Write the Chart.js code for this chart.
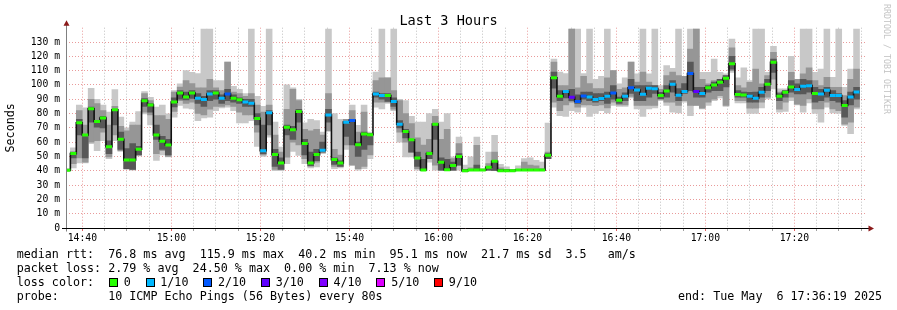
<!DOCTYPE html>
<html>
<head>
<meta charset="utf-8">
<script src="https://cdn.jsdelivr.net/npm/chart.js@4.4.1/dist/chart.umd.min.js"></script>
<style>
  body { margin: 0; background: #fff; }
  #wrap { position: relative; width: 897px; height: 310px; overflow: hidden; background: #fff; }
  #wrap canvas { position: absolute; left: 0; top: 0; }
  .txt { position: absolute; font-family: 'DejaVu Sans Mono', monospace; white-space: pre; color: #000; }
  #title { left: 0; width: 897px; top: 11.8px; text-align: center; font-size: 13.6px; line-height: 16px; }
  #mark { left: 892px; top: 4px; font-size: 8.3px; line-height: 10px; color: #c4c4c4; transform-origin: 0 0; transform: rotate(90deg); }
  .row { left: 16.7px; font-size: 11.7px; line-height: 14px; }
  .box { display: inline-block; width: 7px; height: 7px; border: 1px solid #000; vertical-align: -1px; margin: 0 5.7px 0 0.8px; }
</style>
</head>
<body>
<div id="wrap">
  <canvas id="chart" width="897" height="310"></canvas>
  <div class="txt" id="title">Last 3 Hours</div>
  <div class="txt" id="mark">RRDTOOL / TOBI OETIKER</div>
  <div class="txt row" style="top:246.6px">median rtt:  76.8 ms avg  115.9 ms max  40.2 ms min  95.1 ms now  21.7 ms sd  3.5   am/s</div>
  <div class="txt row" style="top:260.6px">packet loss: 2.79 % avg  24.50 % max  0.00 % min  7.13 % now</div>
  <div class="txt row" id="lossRow" style="top:274.6px"></div>
  <div class="txt row" style="top:288.6px">probe:       10 ICMP Echo Pings (56 Bytes) every 80s</div>
  <div class="txt row" style="top:288.6px; left:678px">end: Tue May  6 17:36:19 2025</div>
</div>
<script>
// time window (3 hours ending at the graph end time), 80 s steps
const endTime = '17:36:19';
const spanSeconds = 3 * 3600;
const stepSeconds = 80;
const firstStepStart = '14:35:58';

const timeLabels = ['14:40', '15:00', '15:20', '15:40', '16:00', '16:20', '16:40', '17:00', '17:20'];
const yLabels = ['0', '10 m', '20 m', '30 m', '40 m', '50 m', '60 m', '70 m', '80 m', '90 m', '100 m', '110 m', '120 m', '130 m'];

const lossLevels = [0, 1, 2, 3, 4, 5, 9];
const lossLabels = ['0', '1/10', '2/10', '3/10', '4/10', '5/10', '9/10'];
const lossColors = ['#26ff00', '#00b8ff', '#0059ff', '#5e00ff', '#7e00ff', '#dd00ff', '#ff0000'];

// median rtt per step (ms)
const median = [
  40.4, 52, 73.5, 65, 83.3, 74.5, 76.8, 56.8, 82.6, 62,
  47.6, 47.6, 55, 89, 86, 65, 60.6, 58, 88, 94.4,
  91.6, 94.4, 90.7, 89.8, 93.7, 94.4, 90.7, 93.7, 90.7, 89.6,
  88, 87.2, 76.6, 54, 80.5, 51.3, 45.5, 70.5, 68.7, 81.4,
  59, 45.5, 51.3, 54.3, 78.9, 47.8, 45.5, 74, 75.2, 58.2,
  65.7, 65.2, 93.7, 92.6, 92.6, 88.4, 72.6, 67.5, 61.7, 49,
  40.6, 52, 72.6, 46, 40.8, 43.6, 49.9, 40.1, 40.6, 40.6,
  40.6, 42.5, 46.6, 40.1, 40.1, 40.1, 40.6, 40.6, 40.6, 40.6,
  40.6, 50.8, 105, 92, 95.4, 91.4, 88.4, 92.3, 91.6, 89.8,
  90.5, 92, 94.4, 89.3, 92, 98, 96.5, 93.5, 97.7, 97.4,
  92.6, 95.8, 100.5, 92.8, 95.4, 108, 95.4, 94, 98, 100,
  101.9, 104.6, 114.8, 93.3, 93, 92, 90.7, 94.9, 100.5, 115.8,
  92, 94.9, 98.6, 96.8, 99, 99.5, 94, 93.7, 96.3, 92.6,
  92.6, 85.6, 91.6, 95.1
];

// lost pings (of 10) per step
const lossPings = [
  0, 0, 0, 0, 0, 0, 0, 0, 0, 0,
  0, 0, 0, 0, 0, 0, 0, 0, 0, 0,
  0, 0, 1, 1, 1, 0, 1, 2, 0, 0,
  1, 1, 0, 1, 1, 0, 0, 0, 0, 0,
  0, 0, 0, 1, 1, 0, 0, 1, 2, 0,
  0, 0, 1, 1, 0, 1, 1, 0, 0, 0,
  0, 0, 0, 0, 0, 0, 0, 0, 0, 0,
  0, 0, 0, 0, 0, 0, 0, 0, 0, 0,
  0, 0, 0, 0, 1, 3, 2, 2, 1, 1,
  1, 1, 2, 0, 1, 2, 1, 1, 1, 1,
  0, 0, 1, 1, 1, 2, 3, 1, 0, 0,
  0, 0, 0, 0, 0, 1, 1, 1, 0, 0,
  0, 0, 0, 1, 1, 1, 0, 1, 1, 1,
  1, 0, 1, 1
];

// smoke: outer (all pings), middle and inner spread, ms
const lightLo = [
  39.5, 42, 45.5, 45.5, 59, 54, 61, 48.5, 61, 53.6,
  41, 40.4, 50.3, 79.8, 72, 47.3, 51, 49.7, 77.5, 85.6,
  83.8, 83.3, 75, 77, 77.5, 82, 84, 84.5, 82, 73.5,
  73.5, 75, 57, 50, 63.5, 40, 40, 45, 53.6, 50.8,
  45, 42, 42.7, 52, 67.5, 41.5, 42, 55, 44, 40.4,
  41.5, 48.5, 84.5, 83.3, 87, 82, 60, 49.7, 49.7, 40.4,
  40, 46, 40.4, 40, 40, 40, 40.4, 39.2, 40, 40,
  40, 40.3, 40, 40, 40, 40, 40, 40, 40, 40,
  40, 48.5, 84.5, 78.6, 78, 82, 81, 84.5, 78, 80,
  82, 80.5, 85.6, 85, 85, 91, 83.3, 78, 83.3, 84,
  89, 85.6, 81, 80.5, 88, 78.6, 85.6, 83.3, 85.6, 89,
  91, 85, 108.8, 87.5, 87.5, 80, 80, 84, 90.3, 97.2,
  81, 81.4, 89, 86, 81, 87.5, 80, 74, 84.5, 80.5,
  80, 71.7, 66, 83.3
];
const lightHi = [
  41.5, 56, 86, 84, 97.7, 90, 86, 81, 96.7, 77.5,
  70, 74, 81.4, 95.4, 91.4, 84.5, 86, 79.8, 96, 100.7,
  110, 108.8, 108, 139, 139, 103, 103, 116, 99, 97,
  94, 139, 92, 85, 139, 74, 56.6, 100, 98, 90,
  73.5, 76, 75, 67, 139, 80, 76, 76, 86, 71.7,
  86, 67, 109, 139, 105, 139, 90, 89, 78, 74,
  74, 80, 83, 74, 80, 49.7, 63.6, 44, 49.7, 63.6,
  41.5, 53, 64.7, 44.5, 42.7, 41, 43.4, 48.5, 49, 47.3,
  46, 73.3, 118, 109, 108, 139, 139, 108, 139, 104,
  106, 139, 110, 100.7, 105, 116, 107.7, 139, 107.7, 139,
  99.5, 113.5, 111.6, 139, 106, 139, 139, 108.8, 108.8, 118,
  108.8, 107.7, 132, 105, 112, 103, 139, 139, 108.8, 127,
  97.2, 97.2, 120, 104, 139, 139, 108.8, 111, 139, 105.3,
  139, 98.4, 111, 139
];
const midLo = [
  40, 45, 49, 46, 60, 61, 67, 49.7, 65, 54,
  41.5, 41, 51, 81, 79, 52, 54, 50, 81.5, 89,
  87, 88, 80, 79, 83, 85, 85, 86, 85, 81,
  79, 79, 67, 51, 65, 41, 41, 49.5, 60, 58,
  48.5, 43, 46, 53, 68, 43, 43, 58, 44, 41.5,
  43, 51, 88, 88, 88, 83, 67, 60, 53, 41.5,
  40.5, 48.5, 44, 40.5, 40.5, 40.5, 44, 39.5, 40.3, 40.5,
  40.3, 40.5, 40, 40, 40, 40, 40, 40.3, 40.3, 40.3,
  40.3, 48.5, 88, 82, 86, 88, 84.5, 86, 86, 85.5,
  86, 84, 88, 86, 86, 92, 85.6, 85.6, 85.6, 85.6,
  90, 88, 88, 85.6, 89, 85.6, 85.6, 83.8, 88, 90,
  92.5, 85.6, 110, 89, 89, 83.8, 83.8, 88, 91.5, 104,
  83, 88, 91.5, 86.5, 85.6, 90.3, 83.3, 83.3, 88, 83.3,
  82, 72.6, 74, 84.5
];
const midHi = [
  41, 53, 82, 72, 90, 87, 82, 72, 85, 71,
  68, 72, 72, 94, 89, 78.6, 78.6, 76, 95, 98.5,
  103, 101, 98, 98, 104, 98, 96, 116, 95, 94,
  92, 94, 86, 81, 86, 65, 53, 83, 97, 89,
  69, 68, 69, 65, 94, 55, 51, 76, 82, 67,
  81, 66, 103, 105, 105, 96, 89, 80, 73, 63,
  58, 62, 78, 62, 69, 48.5, 59, 41, 42, 57.8,
  41, 45, 53, 42, 41, 40.5, 41, 46, 43.9, 43.4,
  41.5, 53, 116, 99.5, 99.5, 139, 98, 106, 101, 97.5,
  97.5, 105, 110, 97, 98, 116, 102, 109, 102, 99.5,
  97, 106.5, 109, 106.5, 106, 125, 139, 104, 100.7, 103,
  104, 106.5, 126, 99.5, 98, 101.8, 111, 100.7, 106.5, 122.7,
  95, 96, 108.8, 104, 107.7, 112, 103, 99.5, 105.3, 98.4,
  98.4, 92.6, 104, 111
];
const darkLo = [
  40, 49, 65, 49, 74, 70.5, 70, 52, 72, 55,
  41.5, 41, 51, 85, 81, 62, 55, 51, 84.6, 90,
  89.5, 90.5, 87, 85, 89, 90, 87, 89, 88, 87,
  85, 85, 72, 52, 72, 43, 41, 65, 62, 74,
  51, 43.5, 47, 53, 74, 44.5, 43, 64, 58, 50,
  55, 58, 91.5, 90, 88.5, 85, 70, 63, 53, 43,
  40.5, 48.5, 62, 40.5, 40.5, 40.5, 44, 39.5, 40.3, 40.5,
  40.3, 40.5, 40.2, 40, 40, 40, 40, 40.3, 40.3, 40.3,
  40.3, 48.5, 97.7, 89, 91, 89, 87, 90, 89, 88,
  89, 87, 90, 87, 89, 94, 89, 89, 91.5, 94,
  90.3, 91.5, 95, 89, 94, 96, 91.5, 91.5, 95, 96,
  96, 98.6, 111, 91.5, 91.5, 88, 88, 91.5, 96, 108.8,
  89, 91.5, 95, 93.7, 93.7, 95, 88, 89, 91.5, 89,
  88, 77.5, 86, 90
];
const darkHi = [
  41, 53, 76, 65.5, 84.5, 75, 78, 61, 83, 67,
  55.5, 59, 57, 90.5, 87, 72, 64, 62, 91, 96,
  95, 96, 94, 92, 96, 96, 93, 97, 93, 91,
  90, 90, 80, 72, 82, 55, 49, 72, 71, 83,
  62, 53, 55, 60, 83, 49, 47, 74.5, 76, 60,
  67, 66, 95, 94, 94, 91, 75, 69, 62, 53,
  48, 53, 73, 49, 48, 46, 52, 41, 41, 44,
  41, 43, 46.8, 41, 41, 40.5, 41, 41, 41, 41,
  41, 52, 109, 96, 96, 97, 93, 95, 95, 94,
  94, 95, 99.5, 91.5, 94.5, 104, 99.5, 99.5, 99.5, 99.5,
  94.9, 99.5, 103, 97.5, 101, 116, 98.4, 98.4, 99.5, 102,
  104, 106.5, 120, 96, 95, 94.9, 95, 98.4, 104, 118,
  94, 96, 103, 100.7, 104, 103, 98.4, 97, 98.4, 96,
  94, 89, 95, 98.4
];

function toSec(t) {
  const p = t.split(':').map(Number);
  return p[0] * 3600 + p[1] * 60 + (p[2] || 0);
}
function fmt(s) {
  const h = Math.floor(s / 3600), m = Math.floor((s % 3600) / 60);
  return String(h).padStart(2, '0') + ':' + String(m).padStart(2, '0');
}

const tEnd = toSec(endTime);
const tStart = tEnd - spanSeconds;
const t0 = toSec(firstStepStart);
const stepStart = i => t0 + i * stepSeconds;
const stepMid = i => t0 + (i + 0.5) * stepSeconds;
const majorTimes = timeLabels.map(toSec);

const band = (lo, hi) => lo.map((v, i) => ({ x: stepMid(i), y: [v, hi[i]] }));
const medianPath = [];
median.forEach((v, i) => {
  medianPath.push({ x: stepStart(i), y: v }, { x: stepStart(i + 1), y: v });
});
const markers = median.map((v, i) => ({ x: stepMid(i), y: v }));
const markerColors = lossPings.map(n => lossColors[lossLevels.indexOf(n)]);

// loss colour legend row
const lossRow = document.getElementById('lossRow');
let html = 'loss color:  ';
lossLabels.forEach((lab, i) => {
  html += '<span class="box" style="background:' + lossColors[i] + '"></span>' + lab + (i < lossLabels.length - 1 ? '  ' : '');
});
lossRow.innerHTML = html;

const mono = 'DejaVu Sans Mono';
const majorGrid = 'rgba(225, 120, 120, 0.75)';
const minorGrid = 'rgba(170, 170, 170, 0.75)';

const rrdAxes = {
  id: 'rrdAxes',
  afterDatasetsDraw(chart) {
    const { ctx, chartArea: a, scales: { y } } = chart;
    const y0 = Math.round(y.getPixelForValue(0)) + 0.5;
    const x0 = Math.round(a.left) + 0.5;
    ctx.save();
    ctx.lineWidth = 1;
    ctx.strokeStyle = '#808080';
    ctx.beginPath();
    ctx.moveTo(x0, y0 + 3);
    ctx.lineTo(x0, a.top - 3);
    ctx.stroke();
    ctx.strokeStyle = '#000';
    ctx.beginPath();
    ctx.moveTo(a.left - 4, y0);
    ctx.lineTo(a.right + 2, y0);
    ctx.stroke();
    ctx.fillStyle = '#8b1a1a';
    ctx.beginPath();
    ctx.moveTo(x0 - 3, a.top - 2);
    ctx.lineTo(x0 + 3, a.top - 2);
    ctx.lineTo(x0, a.top - 7.5);
    ctx.closePath();
    ctx.fill();
    ctx.beginPath();
    ctx.moveTo(a.right + 1.5, y0 - 3);
    ctx.lineTo(a.right + 1.5, y0 + 3);
    ctx.lineTo(a.right + 7, y0);
    ctx.closePath();
    ctx.fill();
    ctx.restore();
  }
};

new Chart(document.getElementById('chart'), {
  type: 'bar',
  data: {
    datasets: [
      { label: 'smoke outer', data: band(lightLo, lightHi), backgroundColor: '#c8c8c8', grouped: false, order: 5, clip: 0 },
      { label: 'smoke middle', data: band(midLo, midHi), backgroundColor: '#969696', grouped: false, order: 4, clip: 0 },
      { label: 'smoke inner', data: band(darkLo, darkHi), backgroundColor: '#585858', grouped: false, order: 3, clip: 0 },
      {
        type: 'line', label: 'median rtt', data: medianPath,
        borderColor: '#111', borderWidth: 1.6, pointRadius: 0, tension: 0, order: 2, clip: 0
      },
      {
        type: 'line', label: 'loss', data: markers, showLine: false,
        pointStyle: 'line', pointRadius: 3, pointBorderWidth: 3,
        pointBorderColor: markerColors, pointBackgroundColor: markerColors, order: 1, clip: 0
      }
    ]
  },
  options: {
    responsive: false,
    animation: false,
    events: [],
    layout: { padding: { left: 0, right: 30, top: 27.7, bottom: 62 } },
    datasets: { bar: { barPercentage: 1, categoryPercentage: 1, borderWidth: 0 } },
    plugins: {
      legend: { display: false },
      tooltip: { enabled: false },
      title: { display: false }
    },
    scales: {
      x: {
        type: 'linear',
        min: tStart,
        max: tEnd,
        offset: false,
        afterBuildTicks: scale => {
          const ticks = [];
          for (let t = Math.ceil(tStart / 300) * 300; t < tEnd; t += 300) ticks.push({ value: t });
          scale.ticks = ticks;
        },
        afterFit: scale => { scale.height = 20; },
        grid: {
          offset: false,
          color: c => majorTimes.includes(c.tick && c.tick.value) ? majorGrid : minorGrid,
          tickColor: c => majorTimes.includes(c.tick && c.tick.value) ? '#e06060' : '#a0a0a0',
          lineWidth: 1,
          drawTicks: true,
          tickLength: 3
        },
        border: { display: false, dash: [1, 2] },
        ticks: {
          autoSkip: false,
          maxRotation: 0,
          padding: 1.5,
          color: '#000',
          font: { family: mono, size: 9.75 },
          callback: v => {
            const k = majorTimes.indexOf(v);
            return k >= 0 ? timeLabels[k] : '';
          }
        }
      },
      y: {
        min: 0,
        max: 140,
        afterBuildTicks: scale => {
          const ticks = [];
          for (let v = 0; v < 140; v += 5) ticks.push({ value: v });
          scale.ticks = ticks;
        },
        afterFit: scale => { scale.width = 66; },
        grid: {
          color: c => (c.tick && c.tick.value % 10 === 0) ? majorGrid : minorGrid,
          lineWidth: 1,
          drawTicks: false
        },
        border: { display: false, dash: [1, 2] },
        title: {
          display: true,
          text: 'Seconds',
          color: '#000',
          font: { family: mono, size: 11.7 },
          padding: 4
        },
        ticks: {
          padding: 6,
          color: '#000',
          font: { family: mono, size: 9.75 },
          callback: v => v % 10 === 0 ? yLabels[v / 10] : ''
        }
      }
    }
  },
  plugins: [rrdAxes]
});
</script>
</body>
</html>
